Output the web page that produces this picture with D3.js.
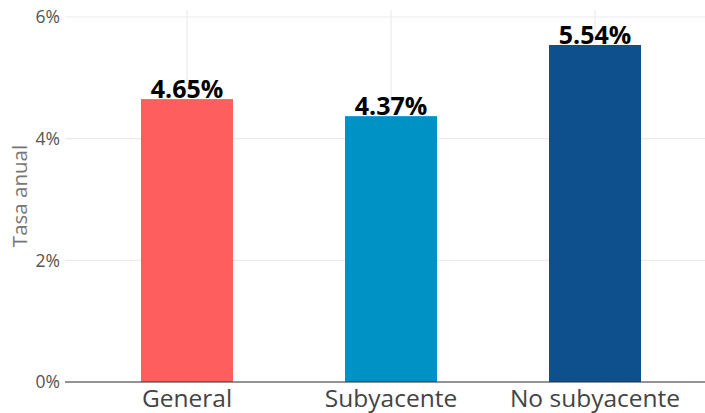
<!DOCTYPE html>
<html><head><meta charset="utf-8">
<script src="https://cdn.jsdelivr.net/npm/d3@7"></script>
<style>body{margin:0;background:#fff}svg{display:block}</style>
</head><body>
<svg id="c" width="705" height="413"></svg>
<script>
const categories = ["General", "Subyacente", "No subyacente"];
const values = [4.65, 4.37, 5.54];
const colors = ["#FF5E5E", "#0091C5", "#0E4F8E"];
const yTicks = [0, 2, 4, 6];
const yTitle = "Tasa anual";

(function () {
const svg = d3.select("#c");
const font = "'Open Sans', 'Noto Sans', sans-serif";
const mLeft = 65, mRight = 705, mTop = 10, mBottom = 382;
const y = d3.scaleLinear().domain([0, 6]).range([mBottom, 17]);
const x = d3.scalePoint().domain(categories).range([187, 595]);
const barW = 92;

// grid
svg.append("g").selectAll("line").data(yTicks).join("line")
  .attr("x1", mLeft).attr("x2", mRight).attr("y1", d => y(d)).attr("y2", d => y(d))
  .attr("stroke", "#ebebeb").attr("stroke-width", 1.2);
svg.append("g").selectAll("line").data(categories).join("line")
  .attr("x1", d => x(d)).attr("x2", d => x(d)).attr("y1", mTop).attr("y2", mBottom)
  .attr("stroke", "#ebebeb").attr("stroke-width", 1.2);

// bars
svg.append("g").selectAll("rect").data(values).join("rect")
  .attr("x", (d, i) => x(categories[i]) - barW / 2)
  .attr("width", barW)
  .attr("y", d => y(d))
  .attr("height", d => y(0) - y(d))
  .attr("fill", (d, i) => colors[i]);

// value labels
svg.append("g").selectAll("text").data(values).join("text")
  .attr("x", (d, i) => x(categories[i]))
  .attr("y", d => y(d) - 1)
  .attr("text-anchor", "middle")
  .attr("font-family", font).attr("font-weight", "bold").attr("font-size", 25)
  .attr("fill", "#000")
  .text(d => d.toFixed(2) + "%");

// baseline
svg.append("line").attr("x1", mLeft).attr("x2", mRight).attr("y1", y(0)).attr("y2", y(0))
  .attr("stroke", "#333").attr("stroke-width", 1.2);

// y tick labels
svg.append("g").selectAll("text").data(yTicks).join("text")
  .attr("x", 60).attr("y", d => y(d)).attr("dy", "0.36em")
  .attr("text-anchor", "end")
  .attr("font-family", font).attr("font-size", 17.5).attr("fill", "#555")
  .text(d => d + "%");

// x labels
svg.append("g").selectAll("text").data(categories).join("text")
  .attr("x", d => x(d)).attr("y", 407)
  .attr("text-anchor", "middle")
  .attr("font-family", font).attr("font-size", 24.5).attr("fill", "#444")
  .text(d => d);

// y title
svg.append("text")
  .attr("transform", "translate(27,196) rotate(-90)")
  .attr("text-anchor", "middle")
  .attr("font-family", font).attr("font-size", 20.5).attr("fill", "#777")
  .text(yTitle);
})();
</script>
</body></html>
